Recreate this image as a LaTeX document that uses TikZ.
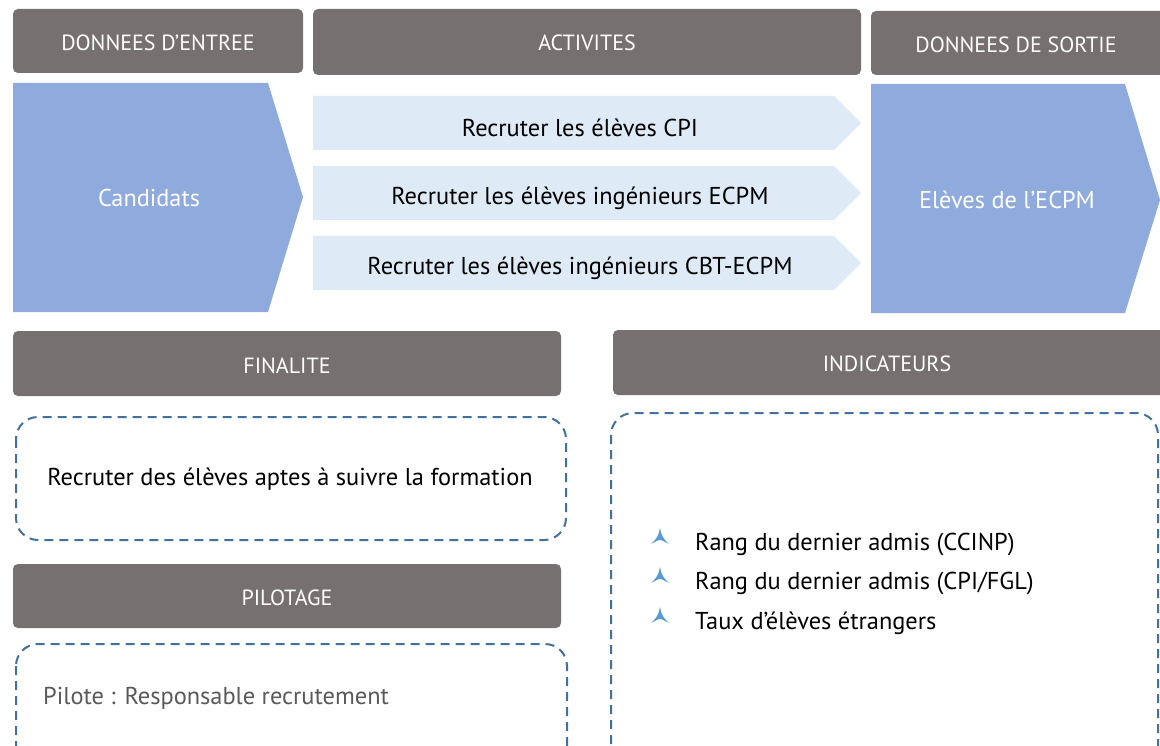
\documentclass[tikz,border=0pt]{standalone}
\usepackage{fontspec}
\setmainfont{PT Sans}
\definecolor{hdrgray}{HTML}{767170}
\definecolor{midblue}{HTML}{8FAADC}
\definecolor{paleblue}{HTML}{DEEBF7}
\definecolor{dashblue}{HTML}{41719C}
\definecolor{bulletblue}{HTML}{5B9BD5}
\definecolor{pilotgray}{HTML}{595959}
\tikzset{
  hdr/.style={fill=hdrgray, rounded corners=5pt, draw=none},
  hdrtext/.style={text=white, font=\fontsize{22}{26}\selectfont, inner sep=0pt},
  bigarrow/.style={fill=midblue, draw=none},
  actarrow/.style={fill=paleblue, draw=none},
  bigtext/.style={text=white, font=\fontsize{24.3}{28}\selectfont, inner sep=0pt},
  acttext/.style={text=black, font=\fontsize{24.4}{28}\selectfont, inner sep=0pt},
  dashbox/.style={draw=dashblue, line width=2pt, dash pattern=on 9pt off 6pt, rounded corners=22pt},
  bodytext/.style={text=black, font=\fontsize{24.4}{28}\selectfont, inner sep=0pt},
  bullet/.style={fill=bulletblue, draw=none},
}
\begin{document}
\begin{tikzpicture}[x=1pt,y=-1pt]
\useasboundingbox (0,0) rectangle (1160,746);
\clip (0,0) rectangle (1160,746);
% headers
\fill[hdr] (13,9) rectangle (303,73);
\node[hdrtext] (hin) at (158,43) {DONNEES D’ENTREE};
\fill[hdr] (313,9) rectangle (861,75);
\node[hdrtext] (hact) at (587,43) {ACTIVITES};
\fill[hdr] (871,11) rectangle (1168,75);
\node[hdrtext] (hout) at (1016,45) {DONNEES DE SORTIE};
% big arrows
\fill[bigarrow] (13,83) -- (268,83) -- (303,197) -- (268,312) -- (13,312) -- cycle;
\node[bigtext] (cand) at (149,198) {Candidats};
\fill[bigarrow] (871,84) -- (1125,84) -- (1160,200) -- (1125,313) -- (871,313) -- cycle;
\node[bigtext] (eleves) at (1007,200) {Elèves de l’ECPM};
% activity arrows
\foreach \t/\n in {96/a1,166/a2,236/a3}{
  \fill[actarrow] (313,\t) -- (834,\t) -- (861,\t+27) -- (834,\t+54) -- (313,\t+54) -- cycle;
}
\node[acttext] (act1) at (580,128) {Recruter les élèves CPI};
\node[acttext] (act2) at (580,198) {Recruter les élèves ingénieurs ECPM};
\node[acttext] (act3) at (580,268) {Recruter les élèves ingénieurs CBT-ECPM};
% finalite
\fill[hdr] (13,331) rectangle (561,396);
\node[hdrtext] (hfin) at (287,366) {FINALITE};
\draw[dashbox] (16,417) rectangle (566,540);
\node[bodytext] (fin) at (290,479) {Recruter des élèves aptes à suivre la formation};
% indicateurs
\fill[hdr] (613,330) rectangle (1168,395);
\node[hdrtext] (hind) at (887,364) {INDICATEURS};
\draw[dashbox] (611,413) rectangle (1158,770);
\foreach \y/\n/\txt in {542/i1/{Rang du dernier admis (CCINP)},581/i2/{Rang du dernier admis (CPI/FGL)},621/i3/{Taux d’élèves étrangers}}{
  \fill[bullet] (660,\y-14) .. controls (661,\y-7) and (664,\y-2) .. (669,\y+2)
     .. controls (665,\y) and (662,\y-2) .. (660,\y-2)
     .. controls (658,\y-2) and (655,\y) .. (651,\y+2)
     .. controls (656,\y-2) and (659,\y-7) .. cycle;
  \node[bodytext, anchor=west] (\n) at (695,\y+2) {\txt};
}
% pilotage
\fill[hdr] (13,564) rectangle (561,628);
\node[hdrtext] (hpil) at (287,598) {PILOTAGE};
\draw[dashbox] (16,644) rectangle (567,770);
\node[bodytext, text=pilotgray, anchor=west] (pil) at (43,698) {Pilote : Responsable recrutement};
\end{tikzpicture}
\end{document}
